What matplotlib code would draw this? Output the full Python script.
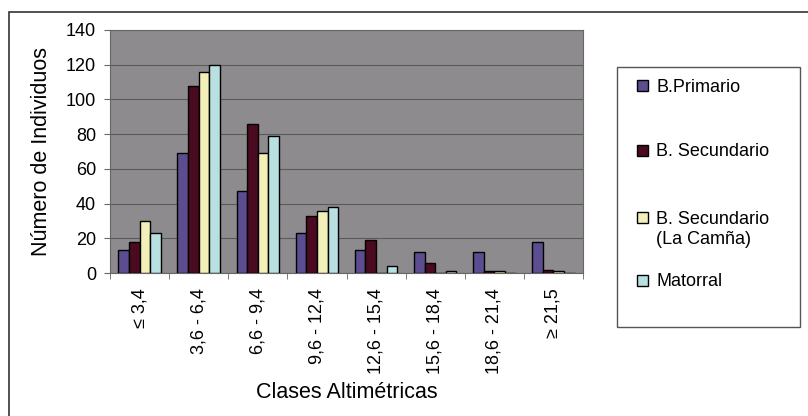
import matplotlib
matplotlib.use("Agg")
import matplotlib.pyplot as plt
import numpy as np
from matplotlib.patches import Rectangle

plt.rcParams['font.family'] = ['Liberation Sans', 'DejaVu Sans']

categories = ["≤ 3,4", "3,6 - 6,4", "6,6 - 9,4", "9,6 - 12,4", "12,6 - 15,4",
              "15,6 - 18,4", "18,6 - 21,4", "≥ 21,5"]
b_primario = [13, 69, 47, 23, 13, 12, 12, 18]
b_secundario = [18, 108, 86, 33, 19, 6, 1, 2]
b_sec_camina = [30, 116, 69, 36, 0, 0, 1, 1]
matorral = [23, 120, 79, 38, 4, 1, 0, 0]
series_names = ["B.Primario", "B. Secundario", "B. Secundario\n(La Camña)", "Matorral"]
series_values = [b_primario, b_secundario, b_sec_camina, matorral]
series_colors = ["#5c4c90", "#4a0a20", "#f2f0b8", "#b8e0e0"]
yticks = [0, 20, 40, 60, 80, 100, 120, 140]

fig = plt.figure(figsize=(8.08, 4.16), dpi=100)
W, H = 808, 416
# outer frame (right and bottom edges fall outside the picture)
fig.patches.append(Rectangle((9 / W, -0.05), 1.1, (416 - 12) / H + 0.05,
                             transform=fig.transFigure, fill=False,
                             edgecolor="#333333", linewidth=1.2))
# legend frame
fig.patches.append(Rectangle((617 / W, 1 - 327 / H), (800 - 617) / W, (327 - 67) / H,
                             transform=fig.transFigure, fill=False,
                             edgecolor="#555555", linewidth=1.0))

ax = fig.add_axes([110 / W, 1 - 273 / H, (583 - 110) / W, (273 - 30) / H])
ax.set_facecolor("#8e8b8e")
x = np.arange(len(categories))
bw = 0.18
for i, (name, vals, col) in enumerate(zip(series_names, series_values, series_colors)):
    ax.bar(x + (i - 1.5) * bw, vals, bw, color=col, edgecolor="black",
           linewidth=1.0, label=name, zorder=3)

ax.set_xlim(-0.5, len(categories) - 0.5)
ax.set_ylim(0, 140)
ax.set_yticks(yticks)
ax.yaxis.grid(True, color="#5a5a5a", linewidth=0.8, zorder=0)
ax.set_xticks(x)
ax.set_xticklabels(categories, rotation=90, fontsize=13)
ax.set_xticks(np.arange(len(categories) + 1) - 0.5, minor=True)
ax.tick_params(axis="x", which="major", length=0, pad=11)
ax.tick_params(axis="x", which="minor", length=4, color="#666666")
ax.tick_params(axis="y", labelsize=13, length=4, color="#666666", pad=6)
for s in ax.spines.values():
    s.set_color("#666666")
ax.set_ylabel("Número de Individuos", fontsize=15.5, labelpad=10)
ax.set_xlabel("Clases Altimétricas", fontsize=15.5)
ax.xaxis.set_label_coords(0.5, (273 - 382) / 243)

# legend entries (manual layout to mimic the original spacing)
legend_rows = [85, 150, 217, 280]
for name, col, yc in zip(series_names, series_colors, legend_rows):
    fig.patches.append(Rectangle((637 / W, 1 - (yc + 5.5) / H), 11 / W, 11 / H,
                                 transform=fig.transFigure, facecolor=col,
                                 edgecolor="black", linewidth=1.0))
    for k, line in enumerate(name.split("\n")):
        fig.text(656 / W, 1 - (yc + 6.5 + 21 * k) / H, line, fontsize=13,
                 va="baseline", ha="left")

fig.savefig("out.png", dpi=100, facecolor="white")
